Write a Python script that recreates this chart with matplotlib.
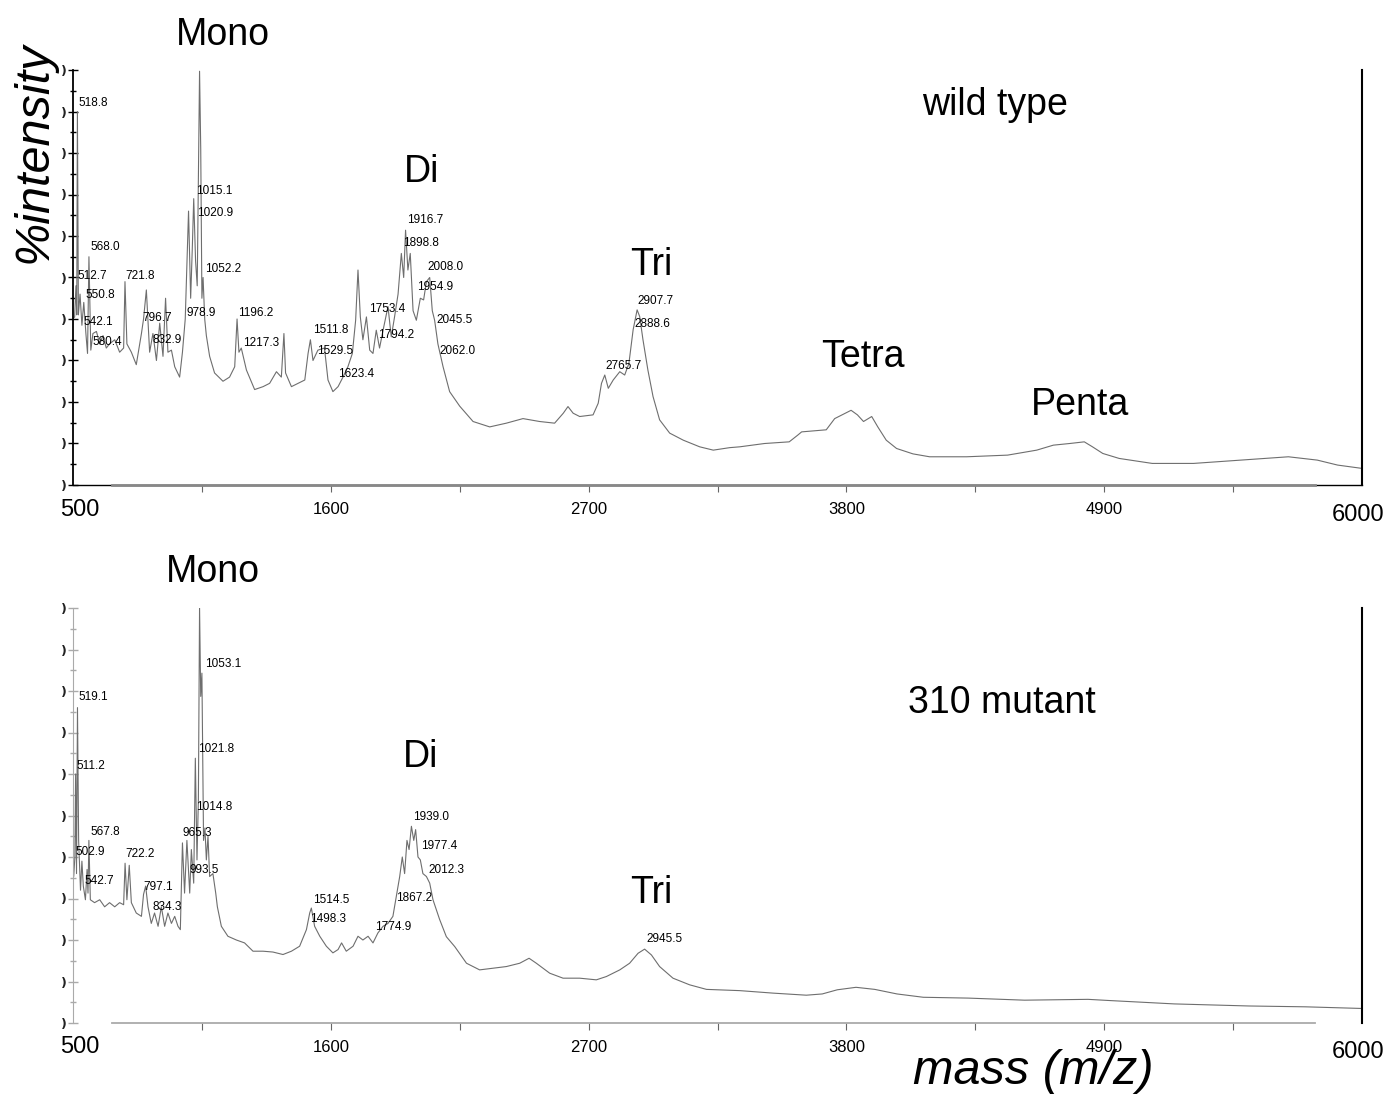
import numpy as np
import matplotlib
matplotlib.use("Agg")
import matplotlib.pyplot as plt
from matplotlib.ticker import MultipleLocator

NARROW = ["Liberation Sans Narrow", "Liberation Sans", "DejaVu Sans"]
SANS = ["Liberation Sans", "DejaVu Sans"]

# wild type spectrum (m/z, % intensity)
wt_mz = [500, 507, 512.7, 516, 518.8, 523, 530, 538, 546, 555, 562, 568.0, 576, 585,
         600, 614, 628, 642, 656, 678, 699, 716, 721.8, 730, 749, 770, 792, 801, 813,
         827, 841, 856, 870, 884, 895, 905, 920, 934, 955, 967, 978.9, 993, 1002, 1009,
         1015.1, 1023, 1030, 1040, 1045, 1050, 1055, 1062, 1069, 1083, 1104, 1140, 1168,
         1190, 1200, 1208, 1218, 1240, 1275, 1311, 1339, 1368, 1389, 1400, 1407, 1432,
         1460, 1489, 1503, 1513, 1524, 1545, 1573, 1588, 1609, 1631, 1652, 1673, 1692,
         1706, 1716, 1726, 1737, 1752, 1766, 1780, 1794, 1808, 1823, 1844, 1858, 1872,
         1887, 1901, 1911, 1919, 1929, 1939, 1951, 1965, 1982, 1996, 2008, 2022, 2033,
         2043, 2057, 2079, 2107, 2150, 2207, 2278, 2349, 2420, 2491, 2555, 2592, 2612,
         2634, 2662, 2719, 2741, 2755, 2769, 2784, 2805, 2833, 2854, 2872, 2890, 2907,
         2918, 2932, 2953, 2975, 3003, 3046, 3104, 3174, 3232, 3302, 3345, 3451, 3556,
         3592, 3609, 3714, 3750, 3820, 3847, 3873, 3908, 3934, 3970, 4014, 4084, 4155,
         4313, 4488, 4612, 4683, 4753, 4815, 4850, 4894, 4964, 5105, 5281, 5457, 5686,
         5809, 5896, 6000]
wt_int = [40, 40.5, 48, 41, 90, 41, 46, 38.5, 44, 36.5, 31.7, 55, 32.5, 36.5,
          37, 34, 36, 33, 34, 35, 32, 33, 49, 34, 32, 29, 36.5, 40, 47,
          32, 36.5, 30, 39, 31, 45, 32, 32.5, 28.5, 26, 32, 40, 66, 45, 57,
          69, 54, 48, 99.7, 81, 45, 50, 40, 36, 31, 27, 25, 26,
          28.5, 40, 32, 33, 27.7, 23, 23.7, 24.5, 27.3, 26, 36.5, 27, 23.7,
          24.5, 25.3, 31.7, 35, 30, 32.5, 33, 25.3, 22.5, 23.7, 26, 28.5, 31.7,
          39.7, 51.8, 40.5, 35, 40.5, 32.5, 31.7, 37.3, 33, 37.3, 43, 35.7, 40.5,
          46, 55.8, 50, 61.4, 51.8, 55.8, 42, 39.7, 45, 44.6, 49, 50, 42,
          39.7, 34, 28.5, 22.5, 19, 15.3, 14, 14.9, 16, 15.3, 14.9, 17.3, 18.9,
          17.3, 16.5, 16.9, 19.7, 24.5, 26.5, 23.3, 25.3, 27.3, 26.5, 29.3, 37.4, 42.2,
          40.6, 35, 27.7, 21.3, 15.7, 12.5, 10.8, 9.2, 8.4, 9, 9.2, 10, 10.4,
          12, 12.8, 13.3, 16, 18, 16.9, 15.3, 16.5, 14, 10.8, 8.8, 7.5, 6.8,
          6.8, 7.2, 8.4, 9.6, 10, 10.4, 9.2, 7.6, 6.4, 5.2, 5.2, 5.9, 6.8,
          6, 4.8, 4]

# 310 mutant spectrum
mut_mz = [500, 503, 508, 511.2, 515, 519.1, 524, 532, 538, 544, 553, 560, 564, 567.8,
          574, 592, 614, 635, 656, 678, 699, 716, 722.2, 730, 740, 749, 770, 792, 801,
          810, 820, 834, 848, 863, 877, 891, 905, 920, 934, 948, 958, 967, 976, 986,
          998, 1005, 1015, 1022, 1029, 1035, 1040, 1045, 1050, 1057, 1063, 1069, 1076,
          1083, 1097, 1109, 1116, 1133, 1161, 1197, 1232, 1268, 1311, 1353, 1396, 1432,
          1467, 1496, 1510, 1517, 1531, 1553, 1581, 1609, 1631, 1646, 1666, 1695, 1716,
          1737, 1759, 1780, 1801, 1823, 1844, 1865, 1872, 1882, 1894, 1905, 1915, 1925,
          1934, 1944, 1954, 1962, 1972, 1982, 1993, 2008, 2022, 2036, 2064, 2093, 2129,
          2179, 2235, 2292, 2349, 2406, 2446, 2477, 2534, 2591, 2662, 2733, 2776, 2833,
          2875, 2911, 2939, 2968, 3003, 3060, 3131, 3203, 3345, 3487, 3629, 3697, 3761,
          3841, 3921, 4016, 4128, 4320, 4560, 4831, 4927, 5199, 5518, 5758, 6000]
mut_int = [35, 35.3, 40, 60, 36, 76, 44, 32, 39, 33, 29.7, 37, 31.3, 44,
           29.7, 29, 29.7, 28, 29, 28, 29, 28.5, 38.5, 29.7, 38, 29, 26.5, 25.7, 31,
           33, 28, 24, 26.5, 23.3, 28, 23.3, 26.5, 24, 25.7, 23.3, 22.5, 43.4, 31.3, 44,
           31.3, 41.8, 33.7, 63.8, 39.3, 53.8, 100, 78.7, 84.3, 44, 47, 39.3, 45,
           35.3, 36, 31.3, 28, 23.3, 20.9, 20, 19.3, 17.3, 17.3, 17.1, 16.5, 17.3,
           18.5, 22.5, 26.5, 27.7, 23.3, 20.9, 18.5, 16.9, 17.7, 19.3, 17.3, 18.5, 20.9,
           20, 20.9, 19.3, 21.7, 23.3, 24, 25.7, 28, 31.3, 35.3, 40, 36, 44,
           41.8, 47.4, 44, 46.6, 40, 39.3, 36, 35.3, 33.7, 29.7, 25, 20.8, 18.4,
           14.4, 12.8, 13.2, 13.6, 14.4, 15.6, 14.4, 12, 10.8, 10.8, 10.4, 11.2, 12.8,
           14.4, 16.8, 17.8, 16.4, 13.6, 10.8, 9.2, 8.1, 7.8, 7.2, 6.7, 7, 8,
           8.6, 8.1, 7, 6.2, 6, 5.5, 5.7, 5.4, 4.6, 4.1, 3.9, 3.5]

# peak labels: text, label anchor (m/z, intensity)
wt_labels = ["518.8", "568.0", "512.7", "721.8", "550.8", "1015.1", "1020.9", "1052.2",
             "978.9", "1196.2", "542.1", "796.7", "832.9", "580.4", "1217.3", "1511.8",
             "1529.5", "1623.4", "1753.4", "1794.2", "1916.7", "1898.8", "2008.0",
             "1954.9", "2045.5", "2062.0", "2765.7", "2907.7", "2888.6"]
wt_label_pos = [(524, 92), (575, 57.4), (520, 50.4), (725, 50.4), (554, 45.8),
                (1024, 70.9), (1028, 65.6), (1062, 52.1), (985, 41.5), (1203, 41.5),
                (545, 39.3), (797, 40.2), (840, 34.9), (584, 34.5), (1224, 34.2),
                (1523, 37.4), (1540, 32.3), (1630, 26.8), (1762, 42.4), (1800, 36.2),
                (1924, 63.9), (1907, 58.3), (2014, 52.5), (1967, 47.7), (2052, 39.8),
                (2065, 32.3), (2773, 28.7), (2910, 44.3), (2897, 38.8)]
mut_labels = ["519.1", "511.2", "1053.1", "1021.8", "1014.8", "567.8", "965.3", "502.9",
              "722.2", "993.5", "542.7", "797.1", "834.3", "1514.5", "1498.3", "1774.9",
              "1867.2", "1939.0", "1977.4", "2012.3", "2945.5"]
mut_label_pos = [(524, 78.6), (516, 61.9), (1062, 86.5), (1032, 66), (1024, 52),
                 (575, 46), (968, 45.8), (511, 41.2), (725, 40.7), (998, 36.9),
                 (550, 34.2), (802, 32.8), (840, 28), (1523, 29.6), (1510, 25.1),
                 (1787, 23.1), (1877, 30.1), (1949, 49.6), (1987, 42.7), (2017, 36.9),
                 (2947, 20.2)]

W, H = 1386, 1097
fig = plt.figure(figsize=(W / 100, H / 100), dpi=100)


def px(x, y):
    return x / W, 1 - y / H


def setup(ax, top):
    ax.set_xlim(500, 6000)
    ax.set_ylim(0, 100)
    ax.spines["top"].set_visible(False)
    ax.spines["right"].set_color("black")
    ax.spines["right"].set_linewidth(1.5)
    ax.yaxis.set_minor_locator(MultipleLocator(5))
    ax.set_yticks(np.arange(0, 101, 10), [")"] * 11)
    lcol = "black" if top else "#aaaaaa"
    ax.spines["left"].set_color(lcol)
    ax.spines["left"].set_linewidth(1.3 if top else 0.8)
    ax.tick_params(axis="y", which="major", direction="inout", length=7, width=1,
                   color=lcol, pad=1, labelsize=9)
    ax.tick_params(axis="y", which="minor", direction="inout", length=5, width=1,
                   color=lcol)
    for t in ax.get_yticklabels():
        t.set_fontweight("bold")
        t.set_color("#222222")
    xt = np.arange(1050, 5451, 550)
    ax.set_xticks(xt, ["" if (v - 500) % 1100 else str(v) for v in xt])
    ax.tick_params(axis="x", direction="out", length=5, color="#666666", pad=7,
                   labelsize=12)
    for t in ax.get_xticklabels():
        t.set_fontfamily(NARROW)
    if top:
        ax.spines["bottom"].set_color("black")
        ax.spines["bottom"].set_linewidth(1.0)
        ax.plot([665, 5800], [0, 0], color="#888888", lw=2.0, clip_on=False, zorder=5)
    else:
        ax.spines["bottom"].set_bounds(665, 5800)
        ax.spines["bottom"].set_color("#aaaaaa")
        ax.spines["bottom"].set_linewidth(1.3)


ax1 = fig.add_axes([73 / W, 1 - 485 / H, 1289 / W, 415 / H])
ax2 = fig.add_axes([73 / W, 1 - 1023 / H, 1289 / W, 415 / H])
setup(ax1, True)
setup(ax2, False)

ax1.plot(wt_mz, wt_int, color="#6e6e6e", lw=0.8)
ax2.plot(mut_mz, mut_int, color="#6e6e6e", lw=0.8)

for txt, (x, y) in zip(wt_labels, wt_label_pos):
    ax1.text(x, y, txt, fontsize=8.5, family=NARROW, ha="left", va="center")
for txt, (x, y) in zip(mut_labels, mut_label_pos):
    ax2.text(x, y, txt, fontsize=8.5, family=NARROW, ha="left", va="center")

big = dict(fontsize=27, family=NARROW, ha="center", va="center")
fig.text(*px(223, 35), "Mono", **big)
fig.text(*px(422, 172), "Di", **big)
fig.text(*px(651, 265), "Tri", **big)
fig.text(*px(863, 357), "Tetra", **big)
fig.text(*px(1080, 405), "Penta", **big)
fig.text(*px(995, 105), "wild type", **big)
fig.text(*px(213, 572), "Mono", **big)
fig.text(*px(421, 757), "Di", **big)
fig.text(*px(651, 893), "Tri", **big)
fig.text(*px(1002, 703), "310 mutant", **big)

edge = dict(fontsize=17, family=NARROW, va="center")
fig.text(*px(80, 510), "500", ha="center", **edge)
fig.text(*px(1384, 515), "6000", ha="right", **edge)
fig.text(*px(80, 1047), "500", ha="center", **edge)
fig.text(*px(1384, 1052), "6000", ha="right", **edge)

fig.text(*px(34, 152), "%intensity", fontsize=35, family=SANS, style="italic",
         rotation=90, ha="center", va="center")
fig.text(*px(1033, 1072), "mass (m/z)", fontsize=35, family=SANS, style="italic",
         ha="center", va="center")

fig.savefig("out.png", dpi=100)
